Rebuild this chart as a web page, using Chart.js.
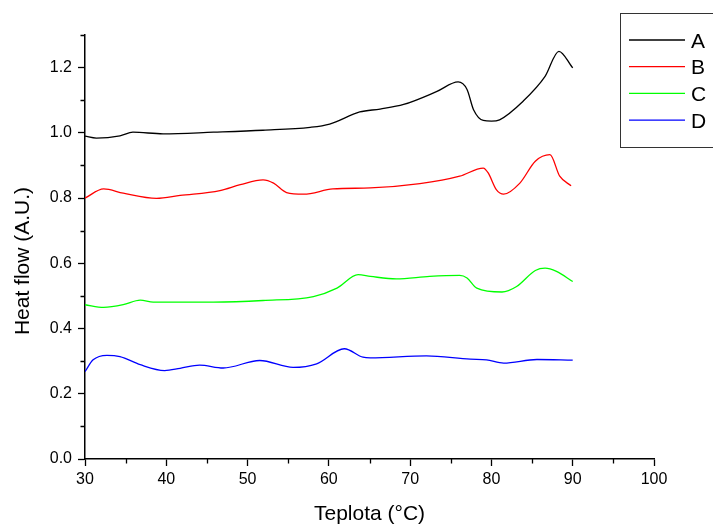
<!DOCTYPE html>
<html>
<head>
<meta charset="utf-8">
<title>Heat flow</title>
<script src="https://cdn.jsdelivr.net/npm/chart.js@4.4.1/dist/chart.umd.min.js"></script>
<style>
  html, body { margin: 0; padding: 0; background: #fff; }
  #wrap { width: 713px; height: 525px; }
</style>
</head>
<body>
<div id="wrap"><canvas id="heatChart" width="713" height="525"></canvas></div>
<script>
// ========== data ==========
const seriesLabels = ['A', 'B', 'C', 'D'];

const tempA = [30, 31.4, 34.3, 35.9, 39.6, 45.8, 51.9, 57.7, 60.1, 63.8, 66.3, 69.2, 73.3, 75.9, 77.0, 77.8, 79.0, 80.0, 81.0, 83.9, 86.6, 88.3, 90];
const flowA = [0.990, 0.984, 0.991, 1.002, 0.997, 1.002, 1.008, 1.017, 1.027, 1.064, 1.073, 1.087, 1.127, 1.156, 1.133, 1.071, 1.038, 1.036, 1.040, 1.097, 1.173, 1.250, 1.199];

const tempB = [30, 32.3, 34.7, 38.8, 41.7, 46.6, 49.1, 51.9, 53.2, 54.8, 56.9, 60.5, 65.1, 71.2, 76.1, 79.0, 79.6, 80.6, 81.5, 83.5, 85.4, 87.2, 88.4, 89.8];
const flowB = [0.800, 0.828, 0.815, 0.799, 0.808, 0.823, 0.841, 0.856, 0.846, 0.817, 0.812, 0.828, 0.831, 0.844, 0.867, 0.892, 0.877, 0.826, 0.812, 0.846, 0.913, 0.933, 0.867, 0.838];

const tempC = [30, 32.3, 34.7, 36.8, 38.4, 45.8, 51.9, 58.1, 61.0, 63.6, 65.1, 68.3, 72.4, 76.1, 77.0, 78.2, 81.3, 83.1, 85.4, 86.6, 88.0, 90];
const flowC = [0.473, 0.465, 0.473, 0.487, 0.481, 0.481, 0.486, 0.498, 0.524, 0.565, 0.560, 0.552, 0.560, 0.563, 0.555, 0.524, 0.512, 0.529, 0.578, 0.585, 0.575, 0.544];

const tempD = [30, 31.0, 32.7, 34.3, 36.8, 39.8, 41.7, 44.1, 47.0, 51.5, 55.6, 58.5, 61.9, 64.2, 65.1, 72.0, 77.4, 79.4, 81.5, 85.6, 90];
const flowD = [0.268, 0.304, 0.318, 0.314, 0.289, 0.271, 0.278, 0.288, 0.279, 0.302, 0.281, 0.292, 0.338, 0.312, 0.310, 0.316, 0.306, 0.304, 0.294, 0.305, 0.303];

const xTicks = [30, 40, 50, 60, 70, 80, 90, 100];
const xMinorTicks = [35, 45, 55, 65, 75, 85, 95];
const yTicks = [0, 0.2, 0.4, 0.6, 0.8, 1.0, 1.2];
const yMinorTicks = [0.1, 0.3, 0.5, 0.7, 0.9, 1.1, 1.3];

// ========== helpers ==========
const FONT = '"Liberation Sans", Arial, sans-serif';

function toPoints(xs, ys) {
  return xs.map((x, i) => ({ x: x, y: ys[i] }));
}

function makeDataset(label, xs, ys, color) {
  return {
    label: label,
    data: toPoints(xs, ys),
    borderColor: color,
    backgroundColor: color,
    borderWidth: 1.3,
    pointRadius: 0,
    fill: false,
    cubicInterpolationMode: 'monotone',
  };
}

// minor ticks, axis titles and the boxed legend
const decorPlugin = {
  id: 'decor',
  afterDraw(chart) {
    const ctx = chart.ctx;
    const xs = chart.scales.x;
    const ys = chart.scales.y;
    const area = chart.chartArea;

    ctx.save();
    ctx.strokeStyle = '#000';
    ctx.lineWidth = 1.3;
    ctx.beginPath();
    xMinorTicks.forEach(v => {
      const px = Math.round(xs.getPixelForValue(v)) + 0.5;
      ctx.moveTo(px, area.bottom);
      ctx.lineTo(px, area.bottom + 4.5);
    });
    yMinorTicks.forEach(v => {
      const py = Math.round(ys.getPixelForValue(v)) + 0.5;
      ctx.moveTo(area.left, py);
      ctx.lineTo(area.left - 4.5, py);
    });
    ctx.stroke();

    // axis titles
    ctx.fillStyle = '#000';
    ctx.font = '21px ' + FONT;
    ctx.textAlign = 'center';
    ctx.textBaseline = 'alphabetic';
    ctx.fillText('Teplota (°C)', (area.left + area.right) / 2, 520);

    ctx.save();
    ctx.translate(29, 261);
    ctx.rotate(-Math.PI / 2);
    ctx.fillText('Heat flow (A.U.)', 0, 0);
    ctx.restore();

    // legend
    ctx.strokeStyle = '#333';
    ctx.lineWidth = 1;
    ctx.strokeRect(620.5, 13.5, 120, 134);
    ctx.textAlign = 'left';
    chart.data.datasets.forEach((ds, i) => {
      const y = 40 + i * 26.7;
      ctx.strokeStyle = ds.borderColor;
      ctx.lineWidth = 1.3;
      ctx.beginPath();
      ctx.moveTo(629, y);
      ctx.lineTo(685, y);
      ctx.stroke();
      ctx.fillStyle = '#000';
      ctx.fillText(ds.label, 691, y + 7.5);
    });
    ctx.restore();
  },
};

// ========== chart ==========
function renderChart() {
  const canvas = document.getElementById('heatChart');

  new Chart(canvas, {
    type: 'line',
    data: {
      datasets: [
        makeDataset(seriesLabels[0], tempA, flowA, '#000000'),
        makeDataset(seriesLabels[1], tempB, flowB, '#ff0000'),
        makeDataset(seriesLabels[2], tempC, flowC, '#00ff00'),
        makeDataset(seriesLabels[3], tempD, flowD, '#0000ff'),
      ],
    },
    options: {
      responsive: false,
      animation: false,
      devicePixelRatio: 1,
      layout: { padding: { top: 35, right: 59, left: 0, bottom: 0 } },
      plugins: {
        legend: { display: false },
        tooltip: { enabled: false },
      },
      scales: {
        x: {
          type: 'linear',
          min: 30,
          max: 100,
          afterFit: s => { s.height = 66; },
          afterBuildTicks: s => { s.ticks = xTicks.map(v => ({ value: v })); },
          grid: { drawOnChartArea: false, drawTicks: true, tickLength: 7, tickColor: '#000', tickWidth: 1.3 },
          border: { display: true, color: '#000', width: 1.5 },
          ticks: {
            color: '#000',
            padding: 4,
            maxRotation: 0,
            font: { family: FONT, size: 16 },
            callback: v => String(v),
          },
        },
        y: {
          type: 'linear',
          min: 0,
          max: 1.3,
          afterFit: s => { s.width = 85; },
          afterBuildTicks: s => { s.ticks = yTicks.map(v => ({ value: v })); },
          grid: { drawOnChartArea: false, drawTicks: true, tickLength: 7, tickColor: '#000', tickWidth: 1.3 },
          border: { display: true, color: '#000', width: 1.5 },
          ticks: {
            color: '#000',
            padding: 6,
            font: { family: FONT, size: 16 },
            callback: v => Number(v).toFixed(1),
          },
        },
      },
    },
    plugins: [decorPlugin],
  });
}

document.addEventListener('DOMContentLoaded', renderChart);
</script>
</body>
</html>
